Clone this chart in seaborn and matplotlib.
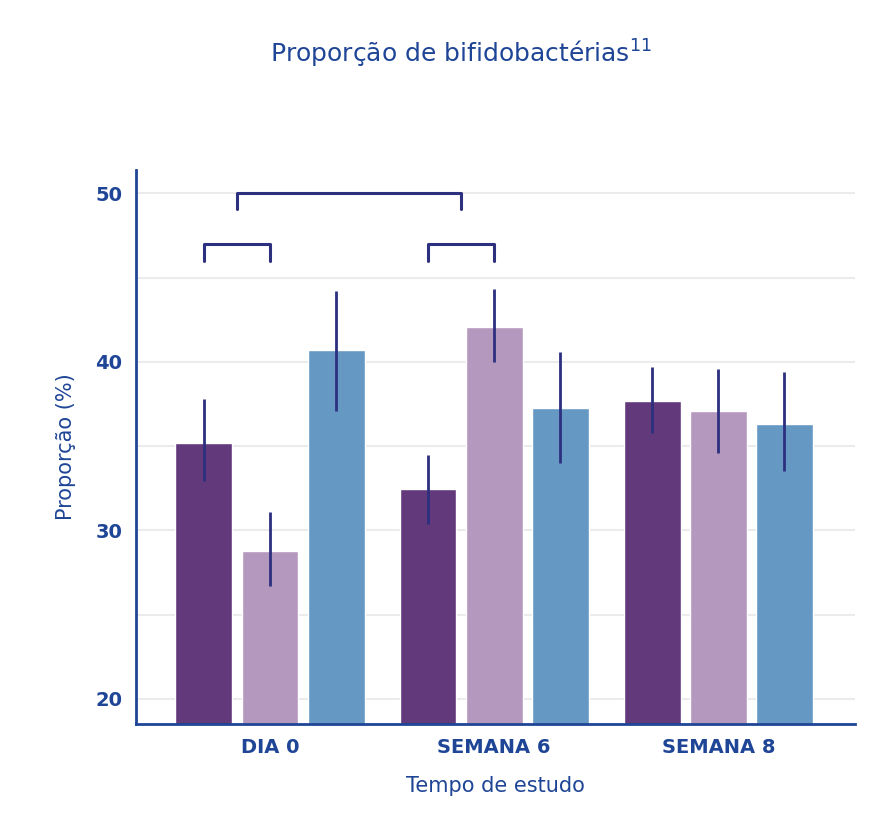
import numpy as np
import pandas as pd
import matplotlib
matplotlib.use('Agg')
import matplotlib.pyplot as plt
import seaborn as sns

# values
timepoints = ['DIA 0', 'SEMANA 6', 'SEMANA 8']
groups = ['A', 'B', 'C']
values = {'A': [35.2, 32.45, 37.7], 'B': [28.8, 42.1, 37.1], 'C': [40.7, 37.25, 36.3]}
upper = {'A': [37.8, 34.5, 39.7], 'B': [31.1, 44.3, 39.6], 'C': [44.2, 40.6, 39.4]}
lower = {'A': [32.9, 30.4, 35.8], 'B': [26.7, 40.0, 34.6], 'C': [37.1, 34.0, 33.5]}
colors = ['#642F87', '#B892C4', '#559BD3']
navy = '#1F4596'
err_col = '#2D2F7F'

rows = []
for g in groups:
    for t, v in zip(timepoints, values[g]):
        rows.append({'tempo': t, 'grupo': g, 'valor': v})
df = pd.DataFrame(rows)

sns.set_style('white')
plt.rcParams['font.family'] = ['DejaVu Sans']
fig = plt.figure(figsize=(8.86, 8.32), dpi=100)
ax = fig.add_axes([0.1535, 0.1298, 0.8115, 0.666])

sns.barplot(data=df, x='tempo', y='valor', hue='grupo', palette=colors,
            width=0.885, gap=0.14, legend=False, ax=ax, bottom=0)

step = 0.295
offsets = [-step, 0, step]
for i, g in enumerate(groups):
    x = np.arange(3) + offsets[i]
    v = np.array(values[g])
    yerr = [v - np.array(lower[g]), np.array(upper[g]) - v]
    ax.errorbar(x, v, yerr=yerr, fmt='none', ecolor=err_col, elinewidth=2, capsize=0, zorder=5)

# significance brackets
def bracket(x1, x2, y, h):
    ax.plot([x1, x1, x2, x2], [y - h, y, y, y - h], color=err_col, lw=2.2, clip_on=False)

bracket(-step, 0, 47.0, 1.0)
bracket(1 - step, 1, 47.0, 1.0)
bracket(-step / 2, 1 - step / 2, 50.0, 0.95)

ax.set_ylim(18.5, 51.4)
ax.set_xlim(-0.598, 2.61)
ax.set_yticks([20, 30, 40, 50])
ax.set_yticks([25, 35, 45], minor=True)
ax.grid(axis='y', which='both', color='#EBEBEB', lw=1.5, zorder=0)
ax.set_axisbelow(True)
for s in ['top', 'right']:
    ax.spines[s].set_visible(False)
for s in ['left', 'bottom']:
    ax.spines[s].set_color(navy)
    ax.spines[s].set_linewidth(2)
ax.tick_params(axis='both', which='both', length=0, labelsize=14, labelcolor=navy, pad=10)
for lab in ax.get_xticklabels() + ax.get_yticklabels():
    lab.set_fontweight('bold')
ax.set_xlabel('Tempo de estudo', fontsize=15, color=navy, labelpad=14)
ax.set_ylabel('Proporção (%)', fontsize=15, color=navy, labelpad=14)
fig.text(0.52, 0.935, 'Proporção de bifidobactérias$^{11}$', ha='center', va='center',
         fontsize=18, color=navy)

fig.savefig('out.png', dpi=100)
